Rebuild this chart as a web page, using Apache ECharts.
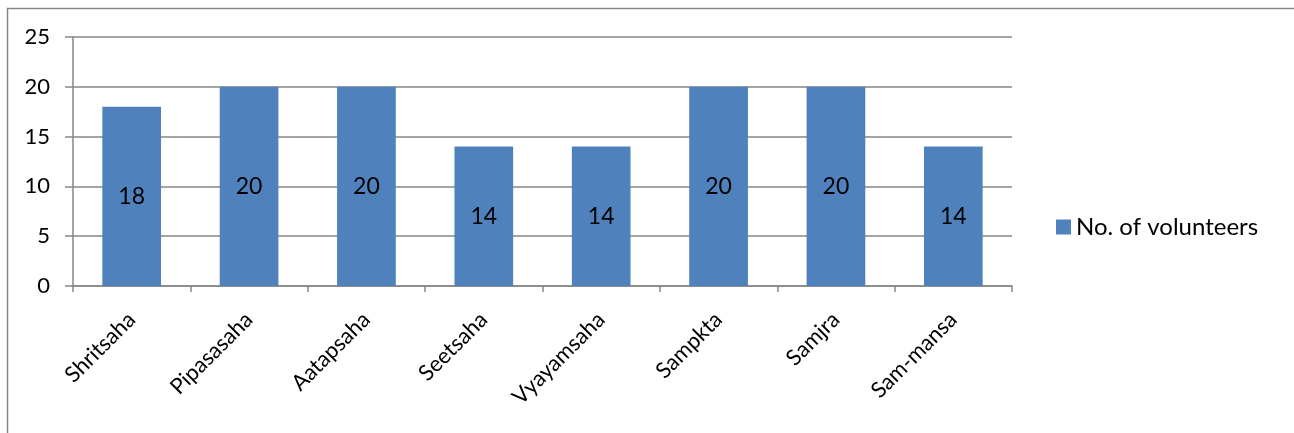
<!DOCTYPE html>
<html>
<head>
<meta charset="utf-8">
<script src="https://cdn.jsdelivr.net/npm/echarts@6/dist/echarts.min.js"></script>
<style>
  html, body { margin: 0; padding: 0; background: #fff; }
  #chart { width: 1294px; height: 433px; }
</style>
</head>
<body>
<div id="chart"></div>
<script>
const categories = ['Shritsaha', 'Pipasasaha', 'Aatapsaha', 'Seetsaha', 'Vyayamsaha', 'Sampkta', 'Samjra', 'Sam-mansa']
const volunteers = [18, 20, 20, 14, 14, 20, 20, 14]
const seriesName = 'No. of volunteers'

const FONT = 'Lato, "Open Sans", sans-serif'
const AXIS_GREY = '#868686'

const chart = echarts.init(document.getElementById('chart'), null, { renderer: 'canvas' })

chart.setOption({
  animation: false,
  textStyle: { fontFamily: FONT },
  // frame: only left and top edges are visible in the crop
  graphic: [{
    type: 'polyline',
    silent: true,
    shape: { points: [[7.5, 440], [7.5, 8.5], [1294, 8.5]] },
    style: { fill: 'none', stroke: AXIS_GREY, lineWidth: 1.5 },
  }],
  legend: {
    orient: 'vertical',
    left: 1051,
    top: 210,
    itemWidth: 15,
    itemHeight: 15,
    itemGap: 5,
    icon: 'rect',
    textStyle: { color: '#000', fontSize: 24, fontFamily: FONT },
    data: [seriesName],
  },
  grid: { left: 73, right: 282, top: 37, bottom: 147 },
  xAxis: {
    type: 'category',
    data: categories,
    axisLine: { lineStyle: { color: AXIS_GREY, width: 1.5 } },
    axisTick: { show: true, length: 6, lineStyle: { color: AXIS_GREY, width: 1.5 } },
    axisLabel: { rotate: 45, margin: 30, color: '#000', fontSize: 22, fontFamily: FONT, interval: 0 },
  },
  yAxis: {
    type: 'value',
    min: 0,
    max: 25,
    interval: 5,
    axisLine: { show: true, lineStyle: { color: AXIS_GREY, width: 1.5 } },
    axisTick: { show: true, length: 8, lineStyle: { color: AXIS_GREY, width: 1.5 } },
    splitLine: { lineStyle: { color: AXIS_GREY, width: 1.5 } },
    axisLabel: { color: '#000', fontSize: 22, fontFamily: FONT, margin: 23 },
  },
  series: [{
    name: seriesName,
    type: 'bar',
    data: volunteers,
    barCategoryGap: '50%',
    itemStyle: { color: '#4F81BD' },
    label: {
      show: true,
      position: 'inside',
      color: '#000',
      fontSize: 23,
      fontFamily: FONT,
    },
  }],
})
</script>
</body>
</html>
